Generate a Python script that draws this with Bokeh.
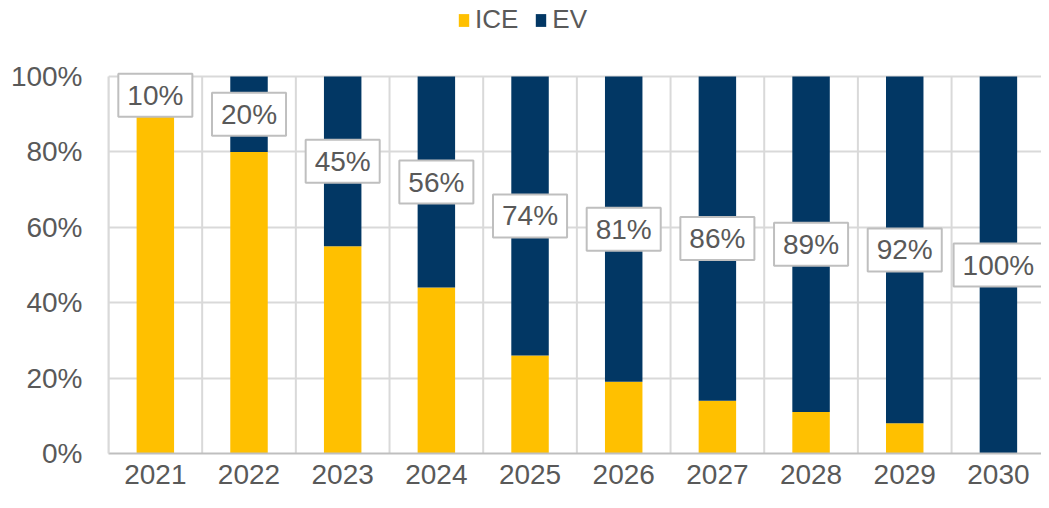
from bokeh.plotting import figure
from bokeh.models import (ColumnDataSource, Legend, LegendItem, FixedTicker,
                          Range1d, PrintfTickFormatter)
from bokeh.core.properties import value
from bokeh.embed import file_html
from bokeh.resources import INLINE

years = ["2021", "2022", "2023", "2024", "2025", "2026", "2027", "2028", "2029", "2030"]
ice = [90, 80, 55, 44, 26, 19, 14, 11, 8, 0]
ev = [10, 20, 45, 56, 74, 81, 86, 89, 92, 100]

YELLOW = "#FFC000"
NAVY = "#023764"
TXT = "#595959"
GRID = "#d9d9d9"
FONT = "Liberation Sans"

x = list(range(len(years)))
src = ColumnDataSource(dict(
    x=x, ice=ice, ev=ev,
    lab_y=[i + e / 2 for i, e in zip(ice, ev)],
    lab=[f"{e}%" for e in ev],
))

# frame spans the full height above the axis; 100% sits 76px below the top
p = figure(width=1041, height=500, output_backend="svg", toolbar_location=None,
           x_range=Range1d(-0.5, 9.46), y_range=Range1d(0, 120.16),
           min_border_left=108, min_border_right=0, min_border_bottom=47, min_border_top=0)
p.outline_line_color = None

# vertical separators between categories, limited to the 0-100% band
sep = [i - 0.5 for i in range(len(years) + 1)]
p.segment(x0=sep, y0=[0] * len(sep), x1=sep, y1=[100] * len(sep),
          line_color=GRID, line_width=2, level="underlay")

rs = p.vbar_stack(["ice", "ev"], x="x", width=0.4, source=src, color=[YELLOW, NAVY],
                  line_color=None)

p.text(x="x", y="lab_y", text="lab", source=src, text_align="center",
       text_baseline="middle", text_font=value(FONT), text_font_size="28px",
       text_color=TXT, background_fill_color="white",
       border_line_color="#bfbfbf", border_line_width=2, padding=(9, 6))

# axes
p.xaxis.ticker = FixedTicker(ticks=x)
p.xaxis.major_label_overrides = {i: y for i, y in enumerate(years)}
p.yaxis.ticker = FixedTicker(ticks=[0, 20, 40, 60, 80, 100])
p.yaxis.formatter = PrintfTickFormatter(format="%d%%")
p.yaxis.bounds = (0, 100)
for ax in (p.xaxis, p.yaxis):
    ax.major_tick_line_color = None
    ax.minor_tick_line_color = None
    ax.major_tick_out = 0
    ax.major_tick_in = 0
    ax.major_label_text_font = FONT
    ax.major_label_text_font_size = "28px"
    ax.major_label_text_color = TXT
p.xaxis.axis_line_color = "#bfbfbf"
p.xaxis.axis_line_width = 2
p.yaxis.axis_line_color = GRID
p.yaxis.axis_line_width = 2
p.xaxis.major_label_standoff = 11
p.yaxis.major_label_standoff = 26

p.xgrid.grid_line_color = None
p.ygrid.grid_line_color = GRID
p.ygrid.grid_line_width = 2

legend = Legend(items=[LegendItem(label="ICE", renderers=[rs[0]]),
                       LegendItem(label="EV", renderers=[rs[1]])],
                orientation="horizontal", location=(349, 418),
                glyph_width=13, glyph_height=16, label_text_font=FONT,
                label_text_font_size="26px", label_text_color=TXT,
                label_standoff=5, spacing=16, padding=0, margin=0,
                border_line_color=None, background_fill_alpha=0)
p.add_layout(legend)

open("out.html", "w").write(file_html(p, INLINE))
